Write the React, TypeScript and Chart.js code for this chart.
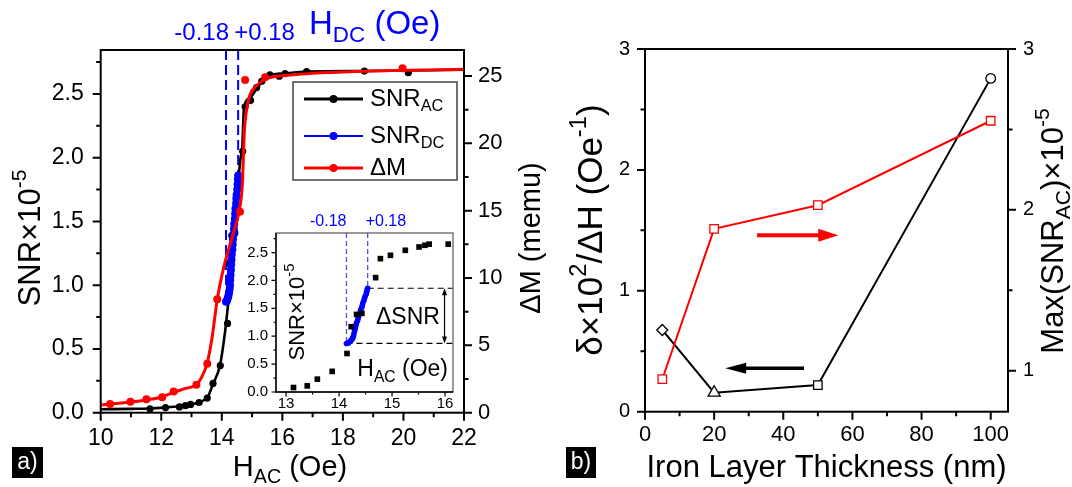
import React, { useEffect, useRef } from 'react';
import { Chart, registerables } from 'chart.js';

Chart.register(...registerables);

const FONT = '"Liberation Sans", Arial, Helvetica, sans-serif';
Chart.defaults.font.family = FONT;
Chart.defaults.color = '#000';

// ---------------- Panel a: main chart ----------------
// SNR_AC fitted curve
const acFitH = [10, 11, 11.6, 12.1, 12.6, 13.0, 13.3, 13.55, 13.7, 13.94, 14.1, 14.19, 14.28, 14.39, 14.5, 14.61, 14.68, 14.73, 14.93, 15.15, 15.48, 16.03, 16.8, 18.67, 22];
const acFitSNR = [0.027, 0.03, 0.033, 0.04, 0.05, 0.065, 0.085, 0.13, 0.22, 0.37, 0.62, 0.81, 1.04, 1.43, 1.69, 1.98, 2.1, 2.38, 2.47, 2.54, 2.64, 2.66, 2.675, 2.68, 2.69];
// SNR_AC measured points
const acH = [11.63, 12.14, 12.6, 12.8, 12.97, 13.25, 13.52, 13.71, 13.95, 14.19, 14.23, 14.33, 14.43, 14.69, 14.77, 14.95, 15.15, 15.32, 15.59, 15.9, 16.09, 16.8, 18.71, 20.16];
const acSNR = [0.03, 0.04, 0.045, 0.055, 0.065, 0.08, 0.115, 0.23, 0.37, 0.7, 1.17, 1.39, 1.41, 2.05, 2.4, 2.45, 2.55, 2.6, 2.65, 2.64, 2.66, 2.675, 2.68, 2.667];
// SNR_DC points
const dcH = [14.14, 14.16, 14.18, 14.2, 14.22, 14.24, 14.26, 14.27, 14.28, 14.29, 14.3, 14.31, 14.32, 14.33, 14.35, 14.36, 14.37, 14.39, 14.4, 14.41, 14.43, 14.44, 14.45, 14.47, 14.48, 14.49, 14.51, 14.52, 14.53, 14.54];
const dcSNR = [0.87, 0.875, 0.885, 0.9, 0.92, 0.94, 0.97, 1.0, 1.04, 1.08, 1.12, 1.16, 1.2, 1.24, 1.28, 1.32, 1.36, 1.4, 1.44, 1.48, 1.52, 1.56, 1.6, 1.64, 1.68, 1.71, 1.75, 1.79, 1.83, 1.86];
// Delta M fitted curve
const dmFitH = [10, 10.5, 11, 11.5, 12, 12.4, 12.8, 13.17, 13.35, 13.52, 13.68, 13.85, 14.07, 14.38, 14.6, 14.68, 14.74, 14.82, 14.93, 15.15, 15.48, 16.25, 19.55, 22];
const dmFitM = [0.57, 0.68, 0.8, 0.95, 1.15, 1.5, 1.8, 2.1, 2.7, 3.7, 5.6, 8.4, 10.84, 13.32, 15.3, 17.0, 20.7, 22.5, 23.6, 24.3, 24.8, 25.07, 25.4, 25.5];
// Delta M measured points
const dmH = [10.31, 10.98, 11.51, 12.03, 12.41, 13.16, 13.52, 13.85, 14.6, 14.77, 15.43, 19.97];
const dmM = [0.65, 0.82, 0.99, 1.15, 1.58, 2.08, 3.64, 8.42, 14.92, 24.7, 24.9, 25.57];

const mainXTicks = [10, 12, 14, 16, 18, 20, 22];
const mainXMinor = [11, 13, 15, 17, 19, 21];
const mainYTicks = [0, 0.5, 1.0, 1.5, 2.0, 2.5];
const mainYMinor = [0.25, 0.75, 1.25, 1.75, 2.25, 2.75];
const mainY2Ticks = [0, 5, 10, 15, 20, 25];
const mainY2Minor = [2.5, 7.5, 12.5, 17.5, 22.5];
const dcFieldLabels = ['-0.18', '+0.18'];

// ---------------- Inset ----------------
const insetH = [13.14, 13.4, 13.59, 13.87, 14.15, 14.23, 14.33, 14.43, 14.69, 14.78, 14.97, 15.25, 15.51, 15.62, 15.7, 16.06];
const insetSNR = [0.08, 0.11, 0.23, 0.37, 0.69, 1.17, 1.39, 1.41, 2.05, 2.39, 2.45, 2.54, 2.6, 2.63, 2.65, 2.65];
const insetXTicks = [13, 14, 15, 16];
const insetXMinor = [13.5, 14.5, 15.5];
const insetYTicks = [0, 0.5, 1.0, 1.5, 2.0, 2.5];
const insetYMinor = [0.25, 0.75, 1.25, 1.75, 2.25, 2.75];
const insetArrowH = 15.99;

// ---------------- Panel b ----------------
const thickness = [5, 20, 50, 100];
const sensitivity = [0.676, 0.157, 0.22, 2.757];
const sensitivityMarkers = ['rectRot', 'triangle', 'rect', 'circle'];
const sensitivityRadius = [5.5, 7, 6, 4.8];
const maxSNR = [0.947, 1.882, 2.029, 2.554];
const bXTicks = [0, 20, 40, 60, 80, 100];
const bXMinor = [10, 30, 50, 70, 90];
const bYTicks = [0, 1, 2, 3];
const bYMinor = [0.5, 1.5, 2.5];
const bY2Ticks = [1, 2, 3];
const bY2Minor = [1.5, 2.5];
const redArrowX = [32.4, 55.9];
const redArrowY = 1.46;
const blackArrowX = [46.0, 23.2];
const blackArrowY = 0.36;

type Seg = { t: string; k?: 'sub' | 'sup' };

function drawRich(
  ctx: CanvasRenderingContext2D,
  segs: Seg[],
  x: number,
  y: number,
  size: number,
  align: 'left' | 'center' | 'right' = 'left',
  rot = 0,
  color = '#000'
) {
  ctx.save();
  ctx.translate(x, y);
  if (rot) ctx.rotate(rot);
  ctx.fillStyle = color;
  ctx.textBaseline = 'middle';
  ctx.textAlign = 'left';
  let w = 0;
  for (const s of segs) {
    ctx.font = `${s.k ? size * 0.68 : size}px ${FONT}`;
    w += ctx.measureText(s.t).width;
  }
  let cx = align === 'center' ? -w / 2 : align === 'right' ? -w : 0;
  for (const s of segs) {
    const fs = s.k ? size * 0.68 : size;
    ctx.font = `${fs}px ${FONT}`;
    const dy = s.k === 'sub' ? size * 0.33 : s.k === 'sup' ? -size * 0.36 : 0;
    ctx.fillText(s.t, cx, dy);
    cx += ctx.measureText(s.t).width;
  }
  ctx.restore();
}

function drawTicks(chart: any, axisId: string, values: number[], len: number, side: 'bottom' | 'left' | 'right', width: number) {
  const ctx: CanvasRenderingContext2D = chart.ctx;
  const a = chart.chartArea;
  const s = chart.scales[axisId];
  ctx.save();
  ctx.strokeStyle = '#000';
  ctx.lineWidth = width;
  ctx.beginPath();
  for (const v of values) {
    const p = s.getPixelForValue(v);
    if (side === 'bottom') {
      ctx.moveTo(p, a.bottom);
      ctx.lineTo(p, a.bottom + len);
    } else if (side === 'left') {
      ctx.moveTo(a.left, p);
      ctx.lineTo(a.left - len, p);
    } else {
      ctx.moveTo(a.right, p);
      ctx.lineTo(a.right + len, p);
    }
  }
  ctx.stroke();
  ctx.restore();
}

function arrow(ctx: CanvasRenderingContext2D, x0: number, x1: number, y: number, color: string, lw: number, headLen: number, headHalf: number) {
  const dir = Math.sign(x1 - x0);
  ctx.save();
  ctx.strokeStyle = color;
  ctx.fillStyle = color;
  ctx.lineWidth = lw;
  ctx.beginPath();
  ctx.moveTo(x0, y);
  ctx.lineTo(x1 - dir * headLen * 0.8, y);
  ctx.stroke();
  ctx.beginPath();
  ctx.moveTo(x1, y);
  ctx.lineTo(x1 - dir * headLen, y - headHalf);
  ctx.lineTo(x1 - dir * headLen, y + headHalf);
  ctx.closePath();
  ctx.fill();
  ctx.restore();
}

const pts = (xs: number[], ys: number[]) => xs.map((x, i) => ({ x, y: ys[i] }));
const setTicks = (vals: number[]) => (s: any) => {
  s.ticks = vals.map((v) => ({ value: v }));
};

function makeMain(canvas: HTMLCanvasElement) {
  const deco = {
    id: 'decoMain',
    beforeDatasetsDraw(chart: any) {
      const ctx: CanvasRenderingContext2D = chart.ctx;
      const a = chart.chartArea;
      const xs = chart.scales.x;
      const ys = chart.scales.y;
      ctx.save();
      ctx.strokeStyle = '#0000ff';
      ctx.lineWidth = 2;
      ctx.setLineDash([10, 5]);
      const ends = [0, dcH.length - 1];
      for (const i of ends) {
        const px = xs.getPixelForValue(dcH[i]);
        ctx.beginPath();
        ctx.moveTo(px, a.top);
        ctx.lineTo(px, ys.getPixelForValue(dcSNR[i]));
        ctx.stroke();
      }
      ctx.restore();
    },
    afterDraw(chart: any) {
      const ctx: CanvasRenderingContext2D = chart.ctx;
      const a = chart.chartArea;
      const xs = chart.scales.x;
      ctx.save();
      ctx.strokeStyle = '#000';
      ctx.lineWidth = 2;
      ctx.strokeRect(a.left, a.top, a.right - a.left, a.bottom - a.top);
      ctx.restore();
      drawTicks(chart, 'x', mainXTicks, 8, 'bottom', 2);
      drawTicks(chart, 'x', mainXMinor, 4.5, 'bottom', 2);
      drawTicks(chart, 'y', mainYTicks, 8, 'left', 2);
      drawTicks(chart, 'y', mainYMinor, 4.5, 'left', 2);
      drawTicks(chart, 'y2', mainY2Ticks, 8, 'right', 2);
      drawTicks(chart, 'y2', mainY2Minor, 4.5, 'right', 2);

      // H_DC annotation
      const p1 = xs.getPixelForValue(dcH[0]);
      const p2 = xs.getPixelForValue(dcH[dcH.length - 1]);
      drawRich(ctx, [{ t: dcFieldLabels[0] }], p1 + 3, 33, 24, 'right', 0, '#0000ff');
      drawRich(ctx, [{ t: dcFieldLabels[1] }], p2 - 4, 33, 24, 'left', 0, '#0000ff');
      drawRich(ctx, [{ t: 'H' }, { t: 'DC', k: 'sub' }, { t: ' (Oe)' }], 309, 25, 33, 'left', 0, '#0000ff');

      // axis titles
      drawRich(ctx, [{ t: 'SNR×10' }, { t: '-5', k: 'sup' }], 31, 238, 31, 'center', -Math.PI / 2);
      drawRich(ctx, [{ t: 'ΔM (memu)' }], 532, 238, 29, 'center', -Math.PI / 2);
      drawRich(ctx, [{ t: 'H' }, { t: 'AC', k: 'sub' }, { t: ' (Oe)' }], 290, 468, 29, 'center');

      // legend
      ctx.save();
      ctx.fillStyle = '#fff';
      ctx.fillRect(293, 82, 164, 98);
      ctx.strokeStyle = '#444';
      ctx.lineWidth = 1.5;
      ctx.strokeRect(293, 82, 164, 98);
      const entries: { segs: Seg[]; color: string; lw: number; y: number }[] = [
        { segs: [{ t: 'SNR' }, { t: 'AC', k: 'sub' }], color: '#000', lw: 3, y: 99 },
        { segs: [{ t: 'SNR' }, { t: 'DC', k: 'sub' }], color: '#0000ff', lw: 2, y: 136 },
        { segs: [{ t: 'ΔM' }], color: '#ff0000', lw: 3, y: 168 },
      ];
      for (const e of entries) {
        ctx.strokeStyle = e.color;
        ctx.fillStyle = e.color;
        ctx.lineWidth = e.lw;
        ctx.beginPath();
        ctx.moveTo(304, e.y);
        ctx.lineTo(363, e.y);
        ctx.stroke();
        ctx.beginPath();
        ctx.arc(333.5, e.y, 4, 0, Math.PI * 2);
        ctx.fill();
        drawRich(ctx, e.segs, 370, e.y, 24, 'left');
      }
      ctx.restore();

      // panel label
      ctx.save();
      ctx.fillStyle = '#000';
      ctx.fillRect(12, 447, 31, 31);
      ctx.restore();
      drawRich(ctx, [{ t: 'a)' }], 27.5, 463, 23, 'center', 0, '#fff');
    },
  };

  return new Chart(canvas, {
    type: 'scatter',
    data: {
      datasets: [
        { data: pts(acFitH, acFitSNR), yAxisID: 'y', showLine: true, borderColor: '#000', borderWidth: 2.6, pointRadius: 0, cubicInterpolationMode: 'monotone', order: 5 } as any,
        { data: pts(acH, acSNR), yAxisID: 'y', pointRadius: 3.6, pointBackgroundColor: '#000', pointBorderColor: '#000', pointBorderWidth: 0, order: 4 },
        { data: pts(dcH, dcSNR), yAxisID: 'y', pointRadius: 4, pointBackgroundColor: '#0000ff', pointBorderColor: '#0000ff', pointBorderWidth: 0, order: 3 },
        { data: pts(dmFitH, dmFitM), yAxisID: 'y2', showLine: true, borderColor: '#ff0000', borderWidth: 3, pointRadius: 0, cubicInterpolationMode: 'monotone', order: 2 } as any,
        { data: pts(dmH, dmM), yAxisID: 'y2', pointRadius: 4, pointBackgroundColor: '#ff0000', pointBorderColor: '#ff0000', pointBorderWidth: 0, order: 1 },
      ],
    },
    options: {
      animation: false,
      responsive: false,
      devicePixelRatio: 1,
      layout: { padding: { top: 50, left: 0, right: 0, bottom: 0 } },
      plugins: { legend: { display: false }, tooltip: { enabled: false } },
      scales: {
        x: {
          type: 'linear', position: 'bottom', min: 10, max: 22,
          afterBuildTicks: setTicks(mainXTicks),
          afterFit: (s: any) => { s.height = 74.3; },
          ticks: { font: { size: 23 }, color: '#000', padding: 12, maxRotation: 0, autoSkip: false, callback: (v: any) => String(v) },
          grid: { display: false, drawTicks: false }, border: { display: false },
        },
        y: {
          type: 'linear', position: 'left', min: 0, max: 2.845,
          afterBuildTicks: setTicks(mainYTicks),
          afterFit: (s: any) => { s.width = 100.7; },
          ticks: { font: { size: 23 }, color: '#000', padding: 17, autoSkip: false, callback: (v: any) => Number(v).toFixed(1) },
          grid: { display: false, drawTicks: false }, border: { display: false },
        },
        y2: {
          type: 'linear', position: 'right', min: 0, max: 26.93,
          afterBuildTicks: setTicks(mainY2Ticks),
          afterFit: (s: any) => { s.width = 96; },
          ticks: { font: { size: 22 }, color: '#000', padding: 14, autoSkip: false, callback: (v: any) => String(v) },
          grid: { display: false, drawTicks: false }, border: { display: false },
        },
      },
    } as any,
    plugins: [deco],
  });
}

function makeInset(canvas: HTMLCanvasElement) {
  const deco = {
    id: 'decoInset',
    beforeDatasetsDraw(chart: any) {
      const ctx: CanvasRenderingContext2D = chart.ctx;
      const a = chart.chartArea;
      const xs = chart.scales.x;
      const ys = chart.scales.y;
      const i0 = 0;
      const i1 = dcH.length - 1;
      ctx.save();
      ctx.strokeStyle = '#5050ff';
      ctx.lineWidth = 1.3;
      ctx.setLineDash([5, 3]);
      for (const i of [i0, i1]) {
        const px = xs.getPixelForValue(dcH[i]);
        ctx.beginPath();
        ctx.moveTo(px, a.top);
        ctx.lineTo(px, ys.getPixelForValue(dcSNR[i]));
        ctx.stroke();
      }
      ctx.strokeStyle = '#000';
      ctx.lineWidth = 1.2;
      ctx.setLineDash([6, 4]);
      for (const i of [i0, i1]) {
        const py = ys.getPixelForValue(dcSNR[i]);
        ctx.beginPath();
        ctx.moveTo(xs.getPixelForValue(dcH[i]), py);
        ctx.lineTo(a.right, py);
        ctx.stroke();
      }
      ctx.setLineDash([]);
      // double arrow
      const ax = xs.getPixelForValue(insetArrowH);
      const yTop = ys.getPixelForValue(dcSNR[i1]);
      const yBot = ys.getPixelForValue(dcSNR[i0]);
      ctx.lineWidth = 1.2;
      ctx.beginPath();
      ctx.moveTo(ax, yTop + 2);
      ctx.lineTo(ax, yBot - 2);
      ctx.stroke();
      ctx.fillStyle = '#000';
      ctx.beginPath();
      ctx.moveTo(ax, yTop);
      ctx.lineTo(ax - 2.5, yTop + 7);
      ctx.lineTo(ax + 2.5, yTop + 7);
      ctx.closePath();
      ctx.fill();
      ctx.beginPath();
      ctx.moveTo(ax, yBot);
      ctx.lineTo(ax - 2.5, yBot - 7);
      ctx.lineTo(ax + 2.5, yBot - 7);
      ctx.closePath();
      ctx.fill();
      ctx.restore();
    },
    afterDraw(chart: any) {
      const ctx: CanvasRenderingContext2D = chart.ctx;
      const a = chart.chartArea;
      const xs = chart.scales.x;
      const ys = chart.scales.y;
      ctx.save();
      ctx.strokeStyle = '#555';
      ctx.lineWidth = 1.2;
      ctx.strokeRect(a.left, a.top, a.right - a.left, a.bottom - a.top);
      ctx.strokeStyle = '#000';
      ctx.lineWidth = 1.4;
      ctx.beginPath();
      ctx.moveTo(a.left, a.top);
      ctx.lineTo(a.left, a.bottom);
      ctx.lineTo(a.right, a.bottom);
      ctx.stroke();
      ctx.restore();
      drawTicks(chart, 'x', insetXTicks, 4.5, 'bottom', 1.2);
      drawTicks(chart, 'x', insetXMinor, 2.5, 'bottom', 1.2);
      drawTicks(chart, 'y', insetYTicks, 4.5, 'left', 1.2);
      drawTicks(chart, 'y', insetYMinor, 2.5, 'left', 1.2);

      const p1 = xs.getPixelForValue(dcH[0]);
      const p2 = xs.getPixelForValue(dcH[dcH.length - 1]);
      drawRich(ctx, [{ t: dcFieldLabels[0] }], p1, a.top - 11, 16, 'right', 0, '#0000ff');
      drawRich(ctx, [{ t: dcFieldLabels[1] }], p2 - 2, a.top - 11, 16, 'left', 0, '#0000ff');
      drawRich(ctx, [{ t: 'ΔSNR' }], xs.getPixelForValue(15.3), ys.getPixelForValue(1.34), 23, 'center');
      drawRich(ctx, [{ t: 'H' }, { t: 'AC', k: 'sub' }, { t: ' (Oe)' }], a.right - 5, a.bottom - 22, 23, 'right');
      drawRich(ctx, [{ t: 'SNR×10' }, { t: '-5', k: 'sup' }], a.left + 22, a.top + 79, 22, 'center', -Math.PI / 2);
    },
  };
  return new Chart(canvas, {
    type: 'scatter',
    data: {
      datasets: [
        { data: pts(insetH, insetSNR), pointStyle: 'rect', pointRadius: 4, pointBackgroundColor: '#000', pointBorderColor: '#000', pointBorderWidth: 0, order: 1 },
        { data: pts(dcH, dcSNR), pointRadius: 2.8, pointBackgroundColor: '#0000ff', pointBorderColor: '#0000ff', pointBorderWidth: 0, order: 2 },
      ],
    },
    options: {
      animation: false,
      responsive: false,
      devicePixelRatio: 1,
      layout: { padding: { top: 28, left: 0, right: 7, bottom: 0 } },
      plugins: { legend: { display: false }, tooltip: { enabled: false } },
      scales: {
        x: {
          type: 'linear', position: 'bottom', min: 12.81, max: 16.15,
          afterBuildTicks: setTicks(insetXTicks),
          afterFit: (s: any) => { s.height = 25; },
          ticks: { font: { size: 15 }, color: '#000', padding: 3, maxRotation: 0, autoSkip: false, callback: (v: any) => String(v) },
          grid: { display: false, drawTicks: false }, border: { display: false },
        },
        y: {
          type: 'linear', position: 'left', min: 0, max: 2.85,
          afterBuildTicks: setTicks(insetYTicks),
          afterFit: (s: any) => { s.width = 50; },
          ticks: { font: { size: 15 }, color: '#000', padding: 8, autoSkip: false, callback: (v: any) => Number(v).toFixed(1) },
          grid: { display: false, drawTicks: false }, border: { display: false },
        },
      },
    } as any,
    plugins: [deco],
  });
}

function makePanelB(canvas: HTMLCanvasElement) {
  const deco = {
    id: 'decoB',
    afterDraw(chart: any) {
      const ctx: CanvasRenderingContext2D = chart.ctx;
      const a = chart.chartArea;
      const xs = chart.scales.x;
      const ys = chart.scales.y;
      ctx.save();
      ctx.strokeStyle = '#000';
      ctx.lineWidth = 2;
      ctx.strokeRect(a.left, a.top, a.right - a.left, a.bottom - a.top);
      ctx.restore();
      drawTicks(chart, 'x', bXTicks, 8, 'bottom', 2);
      drawTicks(chart, 'x', bXMinor, 4.5, 'bottom', 2);
      drawTicks(chart, 'y', bYTicks, 8, 'left', 2);
      drawTicks(chart, 'y', bYMinor, 4.5, 'left', 2);
      drawTicks(chart, 'y2', bY2Ticks, 8, 'right', 2);
      drawTicks(chart, 'y2', bY2Minor, 4.5, 'right', 2);

      arrow(ctx, xs.getPixelForValue(redArrowX[0]), xs.getPixelForValue(redArrowX[1]), ys.getPixelForValue(redArrowY), '#ff0000', 4, 20, 6.5);
      arrow(ctx, xs.getPixelForValue(blackArrowX[0]), xs.getPixelForValue(blackArrowX[1]), ys.getPixelForValue(blackArrowY), '#000', 3.6, 21, 5.5);

      drawRich(ctx, [{ t: 'δ×10' }, { t: '2', k: 'sup' }, { t: '/ΔH (Oe' }, { t: '-1', k: 'sup' }, { t: ')' }], 32, 230, 35, 'center', -Math.PI / 2);
      drawRich(ctx, [{ t: 'Max(SNR' }, { t: 'AC', k: 'sub' }, { t: ')×10' }, { t: '-5', k: 'sup' }], 494, 231, 31, 'center', -Math.PI / 2);
      drawRich(ctx, [{ t: 'Iron Layer Thickness (nm)' }], (a.left + a.right) / 2, 468, 31, 'center');

      ctx.save();
      ctx.fillStyle = '#000';
      ctx.fillRect(6, 447, 30, 31);
      ctx.restore();
      drawRich(ctx, [{ t: 'b)' }], 21, 463, 23, 'center', 0, '#fff');
    },
  };
  return new Chart(canvas, {
    type: 'scatter',
    data: {
      datasets: [
        {
          data: pts(thickness, sensitivity), yAxisID: 'y', showLine: true, borderColor: '#000', borderWidth: 2,
          pointStyle: sensitivityMarkers as any, pointRadius: sensitivityRadius, pointBackgroundColor: '#fff',
          pointBorderColor: '#000', pointBorderWidth: 1.3, order: 2,
        },
        {
          data: pts(thickness, maxSNR), yAxisID: 'y2', showLine: true, borderColor: '#ff0000', borderWidth: 2,
          pointStyle: 'rect', pointRadius: 6, pointBackgroundColor: '#fff', pointBorderColor: '#ff0000', pointBorderWidth: 1.3, order: 1,
        },
      ],
    },
    options: {
      animation: false,
      responsive: false,
      devicePixelRatio: 1,
      layout: { padding: { top: 49, left: 0, right: 0, bottom: 0 } },
      plugins: { legend: { display: false }, tooltip: { enabled: false } },
      scales: {
        x: {
          type: 'linear', position: 'bottom', min: 0, max: 105,
          afterBuildTicks: setTicks(bXTicks),
          afterFit: (s: any) => { s.height = 75.3; },
          ticks: { font: { size: 22 }, color: '#000', padding: 10.5, maxRotation: 0, autoSkip: false, callback: (v: any) => String(v) },
          grid: { display: false, drawTicks: false }, border: { display: false },
        },
        y: {
          type: 'linear', position: 'left', min: 0, max: 3,
          afterBuildTicks: setTicks(bYTicks),
          afterFit: (s: any) => { s.width = 85; },
          ticks: { font: { size: 20 }, color: '#000', padding: 15, autoSkip: false, callback: (v: any) => String(v) },
          grid: { display: false, drawTicks: false }, border: { display: false },
        },
        y2: {
          type: 'linear', position: 'right', min: 0.745, max: 3,
          afterBuildTicks: setTicks(bY2Ticks),
          afterFit: (s: any) => { s.width = 64; },
          ticks: { font: { size: 20 }, color: '#000', padding: 15, autoSkip: false, callback: (v: any) => String(v) },
          grid: { display: false, drawTicks: false }, border: { display: false },
        },
      },
    } as any,
    plugins: [deco],
  });
}

export default function App() {
  const refA = useRef<HTMLCanvasElement>(null);
  const refI = useRef<HTMLCanvasElement>(null);
  const refB = useRef<HTMLCanvasElement>(null);
  useEffect(() => {
    const charts = [makeMain(refA.current!), makeInset(refI.current!), makePanelB(refB.current!)];
    return () => charts.forEach((c) => c.destroy());
  }, []);
  return (
    <div style={{ position: 'fixed', left: 0, top: 0, width: 1072, height: 487, background: '#fff', overflow: 'hidden' }}>
      <canvas ref={refA} width={560} height={487} style={{ position: 'absolute', left: 0, top: 0, width: 560, height: 487 }} />
      <canvas ref={refI} width={234} height={212} style={{ position: 'absolute', left: 226, top: 205, width: 234, height: 212 }} />
      <canvas ref={refB} width={512} height={487} style={{ position: 'absolute', left: 560, top: 0, width: 512, height: 487 }} />
    </div>
  );
}
